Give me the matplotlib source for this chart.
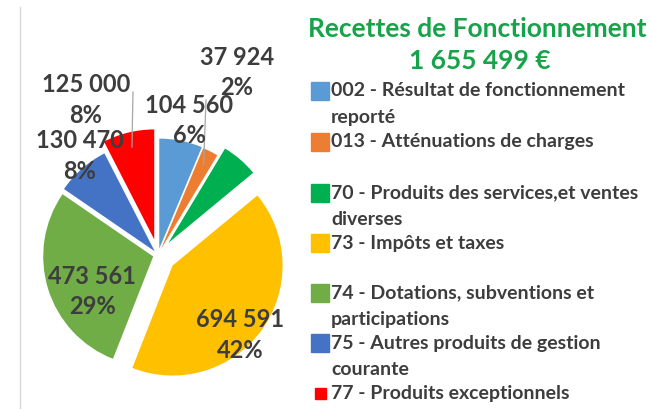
import numpy as np
import matplotlib.pyplot as plt
from matplotlib.lines import Line2D
from matplotlib.patches import Rectangle

#%% data
codes = ['002', '013', '70', '73', '74', '75', '77']
legend_labels = ['002 - Résultat de fonctionnement\nreporté',
                 '013 - Atténuations de charges',
                 '70 - Produits des services,et ventes\ndiverses',
                 '73 - Impôts et taxes',
                 '74 - Dotations, subventions et\nparticipations',
                 '75 - Autres produits de gestion\ncourante',
                 '77 - Produits exceptionnels']
values = [104560, 37924, 89393, 694591, 473561, 130470, 125000]
show_label = [True, True, False, True, True, True, True]
total = 1655499

#%% style
colors = ['#5B9BD5', '#ED7D31', '#00B050', '#FFC000', '#70AD47', '#4472C4', '#FF0000']
explode = [0.065, 0.06, 0.16, 0.18, 0.05, 0.05, 0.16]
R = 1.1
# label centre (data units, pie centre = 0,0)
label_pos = [(0.31, 1.345), (0.79, 1.825), None, (0.825, -0.80),
             (-0.66, -0.365), (-0.785, 0.99), (-0.72, 1.55)]
# leader line start, relative to label centre
leader = [None, (-0.31, -0.275), None, None, None, None, (0.47, 0.08)]
txt_col = '#3D3D3D'
green = '#17A34A'
font = 'Lato'

W, H = 649, 409
fig = plt.figure(figsize=(W / 100, H / 100), dpi=100)

#%% pie
cx, cy = 158, 255   # pixel centre, from top-left
ax = fig.add_axes([0, 0, 0.5, 1])

wedges, _ = ax.pie(values, colors=colors, explode=explode, startangle=90,
                   counterclock=False, radius=R,
                   wedgeprops=dict(linewidth=0))
ax.set_xlim(-cx / 100, (W / 2 - cx) / 100)
ax.set_ylim(-(H - cy) / 100, cy / 100)
ax.set_aspect('equal')
ax.axis('off')

for i, w in enumerate(wedges):
    if not show_label[i]:
        continue
    pct = round(values[i] / total * 100)
    s = f"{values[i]:,}".replace(',', ' ') + f"\n{pct}%"
    lx, ly = label_pos[i]
    ax.text(lx, ly, s, ha='center', va='center', fontsize=17, fontweight='bold',
            color=txt_col, family=font, linespacing=1.4, zorder=5)
    if leader[i]:
        mid = np.deg2rad((w.theta1 + w.theta2) / 2)
        ox, oy = w.center
        ex = ox + (R - 0.15) * np.cos(mid)
        ey = oy + (R - 0.15) * np.sin(mid)
        ax.plot([lx + leader[i][0], ex], [ly + leader[i][1], ey],
                color='#A6A6A6', lw=0.9, zorder=4)

#%% title
fig.text(477 / W, 1 - 29 / H, 'Recettes de Fonctionnement', ha='center', va='center',
         fontsize=19, fontweight='bold', color=green, family=font)
fig.text(480 / W, 1 - 61 / H, f"{total:,}".replace(',', ' ') + ' €', ha='center',
         va='center', fontsize=19, fontweight='bold', color=green, family=font)

#%% legend
row_y = [91, 142, 193, 243, 293, 343, 393]
for i, lab in enumerate(legend_labels):
    y0 = row_y[i]
    sz = 11 if codes[i] == '77' else 18
    fig.add_artist(Rectangle(((320 - sz / 2) / W, 1 - (y0 + sz / 2) / H), sz / W, sz / H,
                             color=colors[i], transform=fig.transFigure))
    for j, line in enumerate(lab.split('\n')):
        fig.text(331 / W, 1 - (y0 + j * 26.5) / H, line, ha='left', va='center',
                 fontsize=14, fontweight='bold', color=txt_col, family=font)

fig.add_artist(Line2D([20 / W, 20 / W], [0, 1 - 7 / H], color='#D9D9D9', lw=1))

fig.savefig('out.png', dpi=100)
